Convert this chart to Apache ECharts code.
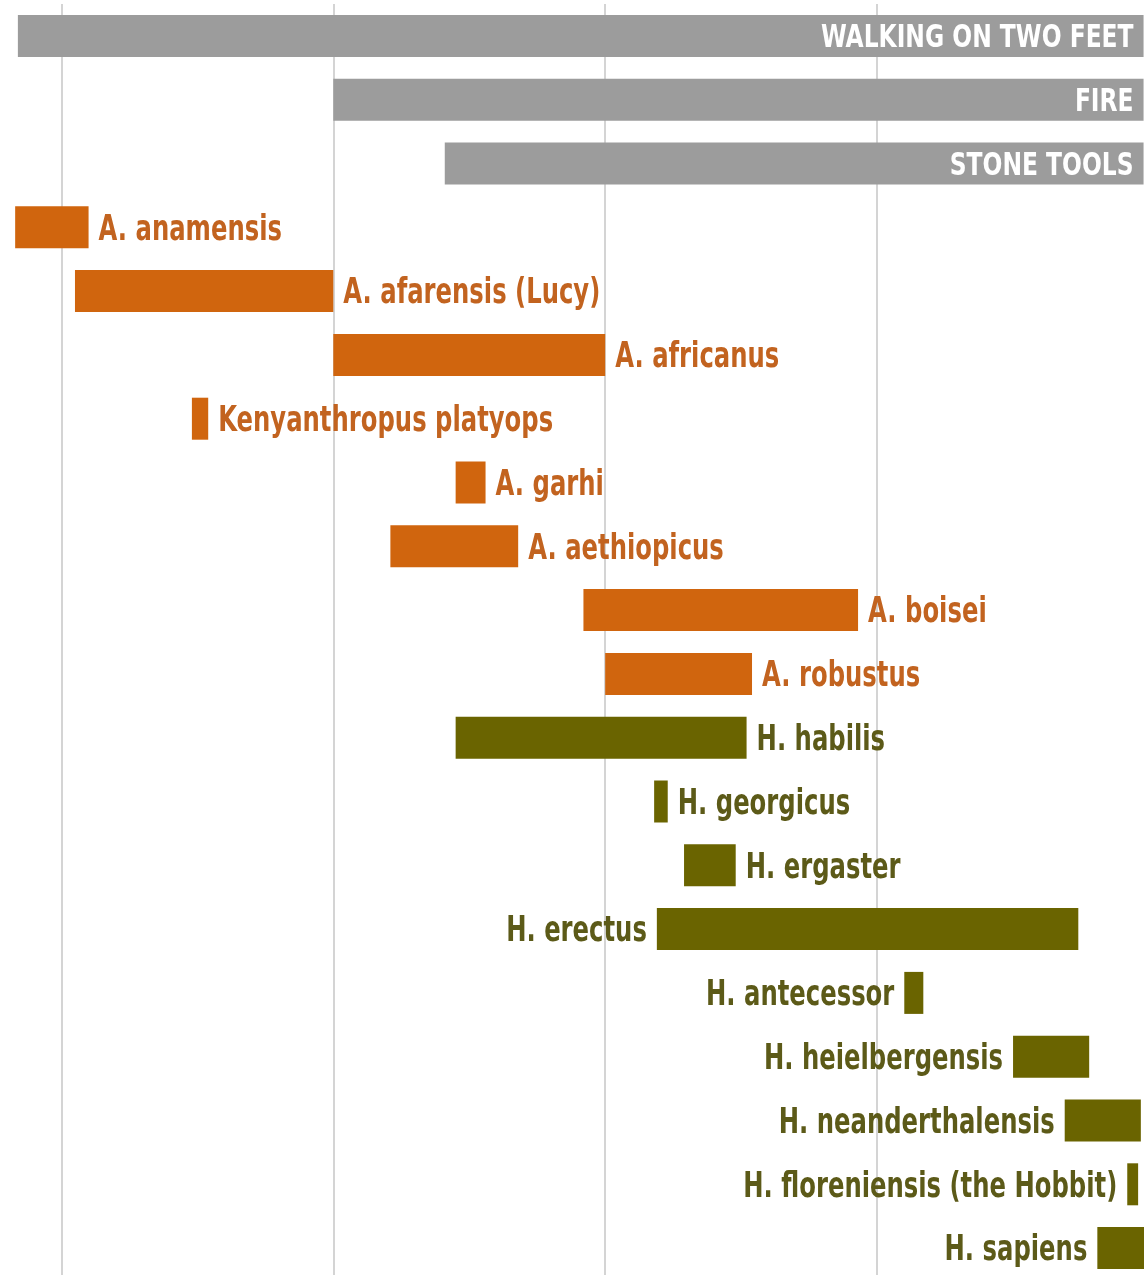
<!DOCTYPE html>
<html>
<head>
<meta charset="utf-8">
<title>Human evolution timeline</title>
<script src="https://cdn.jsdelivr.net/npm/echarts@6/dist/echarts.min.js"></script>
<style>
  html, body { margin: 0; padding: 0; background: #fff; }
  #chart { width: 1144px; height: 1275px; }
</style>
</head>
<body>
<div id="chart"></div>
<script>
// rows, top to bottom
const species = [
  'WALKING ON TWO FEET', 'FIRE', 'STONE TOOLS',
  'A. anamensis', 'A. afarensis (Lucy)', 'A. africanus', 'Kenyanthropus platyops',
  'A. garhi', 'A. aethiopicus', 'A. boisei', 'A. robustus',
  'H. habilis', 'H. georgicus', 'H. ergaster', 'H. erectus', 'H. antecessor',
  'H. heielbergensis', 'H. neanderthalensis', 'H. floreniensis (the Hobbit)', 'H. sapiens'
]
const groups = [
  'trait', 'trait', 'trait',
  'australopith', 'australopith', 'australopith', 'australopith',
  'australopith', 'australopith', 'australopith', 'australopith',
  'homo', 'homo', 'homo', 'homo', 'homo',
  'homo', 'homo', 'homo', 'homo'
]
// millions of years ago (first appearance / last appearance)
const fromMya = [4.16, 3.0, 2.59, 4.17, 3.95, 3.0, 3.52, 2.55, 2.79, 2.08, 2.0, 2.55, 1.82, 1.71, 1.81, 0.9, 0.5, 0.31, 0.08, 0.19]
const toMya = [0.02, 0.02, 0.02, 3.9, 3.0, 2.0, 3.46, 2.44, 2.32, 1.07, 1.46, 1.48, 1.77, 1.52, 0.26, 0.83, 0.22, 0.03, 0.04, 0]

const barColors = { trait: '#9c9c9c', australopith: '#d0650e', homo: '#6a6400' }
const textColors = { trait: '#ffffff', australopith: '#c2631f', homo: '#5c5a18' }
// these rows have their name in front of the bar
const labelOnLeft = ['H. erectus', 'H. antecessor', 'H. heielbergensis', 'H. neanderthalensis',
  'H. floreniensis (the Hobbit)', 'H. sapiens']

const fontFamily = '"DejaVu Sans Condensed", "Liberation Sans Narrow", sans-serif'

const chart = echarts.init(document.getElementById('chart'))

chart.setOption({
  animation: false,
  grid: { left: 7, right: -5, top: 4, bottom: -5, outerBoundsMode: 'none' },
  xAxis: {
    type: 'value',
    inverse: true,
    min: 0,
    max: 4.2,
    interval: 1,
    axisLine: { show: false },
    axisTick: { show: false },
    axisLabel: { show: false },
    splitLine: {
      show: true,
      showMinLine: false,
      showMaxLine: false,
      lineStyle: { color: '#d4d4d4', width: 2 }
    }
  },
  yAxis: {
    type: 'category',
    inverse: true,
    data: species,
    show: false
  },
  series: [
    {
      // invisible spacer from "now" to the last appearance
      type: 'bar',
      stack: 'range',
      silent: true,
      barWidth: 42,
      itemStyle: { color: 'transparent' },
      data: toMya
    },
    {
      type: 'bar',
      stack: 'range',
      silent: true,
      barWidth: 42,
      data: species.map((name, i) => ({
        value: +(fromMya[i] - toMya[i]).toFixed(3),
        itemStyle: { color: barColors[groups[i]] }
      }))
    },
    {
      // names, drawn as tall narrow text like the original poster
      type: 'custom',
      silent: true,
      z: 5,
      encode: { x: [0, 1], y: 2 },
      data: species.map((name, i) => [fromMya[i], toMya[i], i]),
      renderItem(params, api) {
        const i = params.dataIndex
        const g = groups[i]
        const y = api.coord([0, i])[1] + 3
        const xOld = api.coord([api.value(0), i])[0]
        const xYoung = api.coord([api.value(1), i])[0]
        let x, align
        if (g === 'trait') {
          x = xYoung - 10
          align = 'right'
        } else if (labelOnLeft.indexOf(species[i]) >= 0) {
          x = xOld - 10
          align = 'right'
        } else {
          x = xYoung + 10
          align = 'left'
        }
        const size = g === 'trait' ? 26 : 27
        return {
          type: 'text',
          x: x,
          y: y,
          scaleY: g === 'trait' ? 1.2 : 1.32,
          style: {
            text: species[i],
            fill: textColors[g],
            font: 'bold ' + size + 'px ' + fontFamily,
            align: align,
            verticalAlign: 'middle'
          }
        }
      }
    }
  ]
})
</script>
</body>
</html>
